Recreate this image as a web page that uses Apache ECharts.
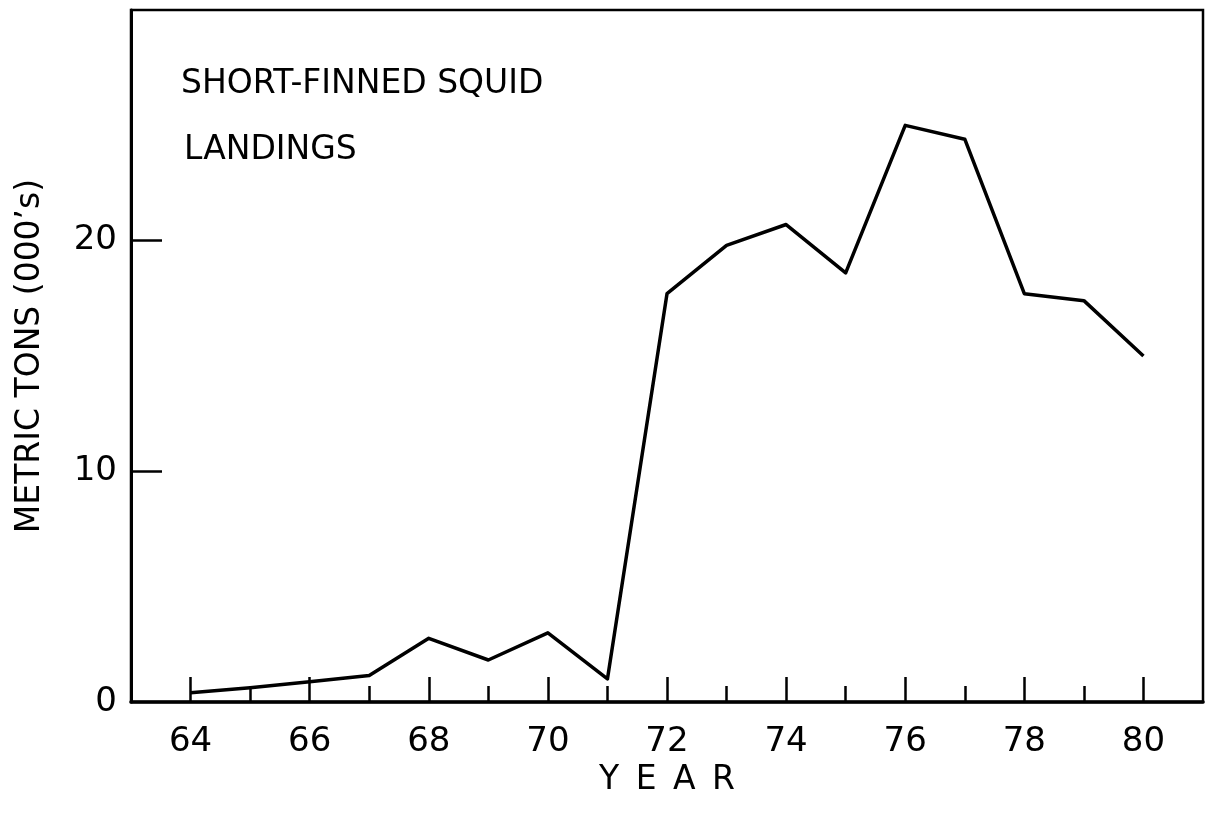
<!DOCTYPE html>
<html>
<head>
<meta charset="utf-8">
<script src="https://cdn.jsdelivr.net/npm/echarts@6/dist/echarts.min.js"></script>
<style>
  html, body { margin: 0; padding: 0; background: #fff; }
  #chart { width: 1205px; height: 817px; }
</style>
</head>
<body>
<div id="chart"></div>
<script>
// Short-finned squid landings, metric tons (thousands), 1964-1980
const years = [64, 65, 66, 67, 68, 69, 70, 71, 72, 73, 74, 75, 76, 77, 78, 79, 80];
const landings = [0.4, 0.62, 0.88, 1.15, 2.76, 1.82, 3.0, 1.0, 17.7, 19.8, 20.7, 18.6, 25.0, 24.4, 17.7, 17.4, 15.0];
const evenYears = [64, 66, 68, 70, 72, 74, 76, 78, 80];
const oddYears = [65, 67, 69, 71, 73, 75, 77, 79];
const yLabels = [0, 10, 20];
const yTicks = [10, 20];

const FONT = 'DejaVu Sans';
const INK = '#000';

const chart = echarts.init(document.getElementById('chart'), null, { renderer: 'canvas' });

chart.setOption({
  backgroundColor: '#fff',
  animation: false,
  title: [
    { text: 'SHORT-FINNED SQUID', left: 176, top: 63,
      textStyle: { fontFamily: FONT, fontSize: 33, fontWeight: 'normal', color: INK } },
    { text: 'LANDINGS', left: 179, top: 129,
      textStyle: { fontFamily: FONT, fontSize: 33, fontWeight: 'normal', color: INK } }
  ],
  grid: {
    left: 131, right: 2, top: 10, bottom: 115,
    show: true, borderColor: INK, borderWidth: 2.5, backgroundColor: 'transparent'
  },
  xAxis: [
    {
      type: 'value', min: 63, max: 81, interval: 1,
      name: 'Y\u2002E\u2002A\u2002R', nameLocation: 'middle', nameGap: 56,
      nameTextStyle: { fontFamily: FONT, fontSize: 33, color: INK },
      axisLine: { show: true, onZero: false, lineStyle: { color: INK, width: 3.5 } },
      axisTick: { show: true, inside: true, length: 25, customValues: evenYears,
        lineStyle: { color: INK, width: 2.5 } },
      axisLabel: { show: true, customValues: evenYears, margin: 23,
        fontFamily: FONT, fontSize: 34, color: INK },
      splitLine: { show: false }
    },
    {
      type: 'value', min: 63, max: 81, interval: 1, position: 'bottom',
      axisLine: { show: false },
      axisTick: { show: true, inside: true, length: 16, customValues: oddYears,
        lineStyle: { color: INK, width: 2.5 } },
      axisLabel: { show: false },
      splitLine: { show: false }
    }
  ],
  yAxis: {
    type: 'value', min: 0, max: 30, interval: 10,
    name: 'METRIC TONS (000\u2019s)', nameLocation: 'middle', nameGap: 84,
    nameTextStyle: { fontFamily: FONT, fontSize: 33, color: INK },
    axisLine: { show: true, onZero: false, lineStyle: { color: INK, width: 3 } },
    axisTick: { show: true, inside: true, length: 31, customValues: yTicks,
      lineStyle: { color: INK, width: 2.5 } },
    axisLabel: { show: true, customValues: yLabels, margin: 14,
      fontFamily: FONT, fontSize: 34, color: INK },
    splitLine: { show: false }
  },
  series: [
    {
      type: 'line',
      xAxisIndex: 0,
      data: years.map((y, i) => [y, landings[i]]),
      showSymbol: false,
      smooth: false,
      lineStyle: { color: INK, width: 3.5, join: 'round' }
    }
  ]
});
</script>
</body>
</html>
